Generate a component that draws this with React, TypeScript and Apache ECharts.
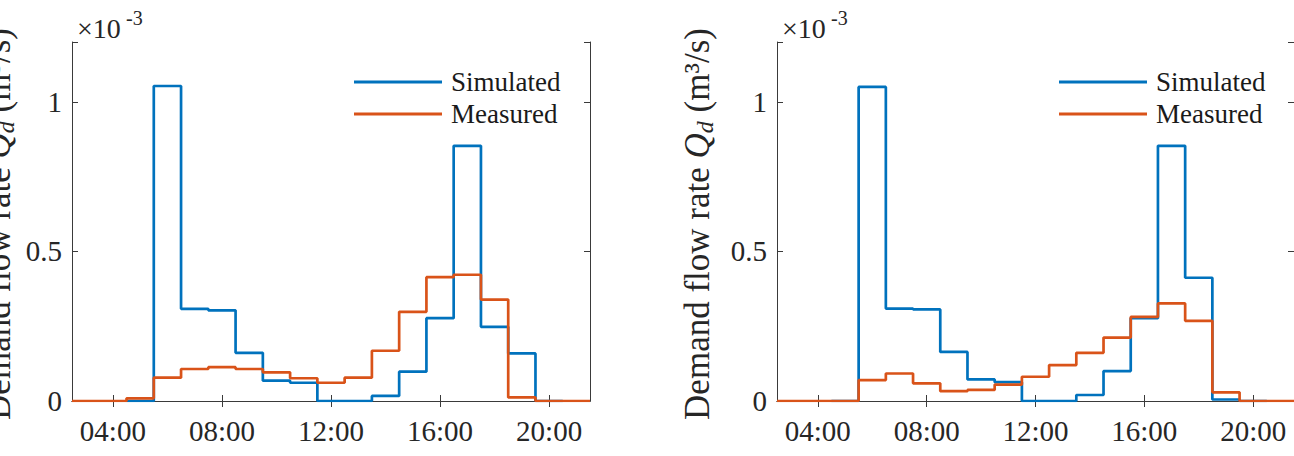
import React, { useEffect, useRef } from 'react';
import * as echarts from 'echarts';

// bin centres (hour of day); each bin spans h-0.5 .. h+0.5
const hours = [3, 4, 5, 6, 7, 8, 9, 10, 11, 12, 13, 14, 15, 16, 17, 18, 19, 20, 21];
const tickHours = [4, 8, 12, 16, 20];
const yTickValues = [0, 0.5, 1];

// values in units of 1e-3 m^3/s
const leftSimulated = [null, null, 0, 1.053, 0.308, 0.303, 0.161, 0.068, 0.061, 0, 0, 0.017, 0.098, 0.277, 0.853, 0.248, 0.159, 0, null];
const leftMeasured = [0, 0, 0.009, 0.078, 0.107, 0.113, 0.107, 0.096, 0.076, 0.061, 0.078, 0.168, 0.298, 0.414, 0.422, 0.339, 0.012, 0, 0];
const rightSimulated = [null, null, 0, 1.05, 0.309, 0.306, 0.164, 0.072, 0.063, 0, 0, 0.02, 0.1, 0.277, 0.853, 0.412, 0.005, 0, null];
const rightMeasured = [0, 0, 0, 0.07, 0.092, 0.059, 0.033, 0.037, 0.055, 0.081, 0.12, 0.161, 0.212, 0.281, 0.326, 0.268, 0.029, 0, 0];

const seriesNames = ['Simulated', 'Measured'];
const colors = ['#0072BD', '#D95319'];
const FONT = 'Liberation Serif';
const AX = '#3a3a3a';

function stairs(values: (number | null)[]) {
  const pts: number[][] = [];
  let last: number[] | null = null;
  hours.forEach((h, i) => {
    const v = values[i];
    if (v == null) return;
    pts.push([h - 0.5, v]);
    last = [h + 0.5, v];
  });
  if (last) pts.push(last);
  return pts;
}

const hourLabel = (v: number) => String(Math.round(v)).padStart(2, '0') + ':00';

export default function App() {
  const ref = useRef<HTMLDivElement>(null);
  useEffect(() => {
    if (!ref.current) return;
    const chart = echarts.init(ref.current, null, { renderer: 'svg' });
    const grids = [
      { left: 72, top: 42, width: 518, height: 359 },
      { left: 777, top: 42, width: 518, height: 359 },
    ];
    const xMin = hours[0] - 0.5;
    const xMax = hours[hours.length - 1] + 0.5;
    const xAxes: any[] = [];
    const yAxes: any[] = [];
    grids.forEach((_, g) => {
      xAxes.push({
        type: 'value', gridIndex: g, position: 'bottom', min: xMin, max: xMax,
        axisLine: { show: true, lineStyle: { color: AX, width: 1 } },
        axisTick: { show: true, inside: true, length: 6, customValues: tickHours, lineStyle: { color: AX } },
        axisLabel: { show: true, customValues: tickHours, formatter: hourLabel, margin: 15, color: '#262626', fontFamily: FONT, fontSize: 29 },
        splitLine: { show: false },
      });
      xAxes.push({
        type: 'value', gridIndex: g, position: 'top', min: xMin, max: xMax,
        axisLine: { show: true, lineStyle: { color: AX, width: 1 } },
        axisTick: { show: true, inside: true, length: 6, customValues: tickHours, lineStyle: { color: AX } },
        axisLabel: { show: false },
        splitLine: { show: false },
      });
      yAxes.push({
        type: 'value', gridIndex: g, position: 'left', min: 0, max: 1.2, interval: 0.5,
        axisLine: { show: true, lineStyle: { color: AX, width: 1 } },
        axisTick: { show: true, inside: true, length: 6, lineStyle: { color: AX } },
        axisLabel: { show: true, margin: 10, color: '#262626', fontFamily: FONT, fontSize: 29, formatter: (v: number) => (yTickValues.includes(v) ? String(v) : '') },
        splitLine: { show: false },
      });
      yAxes.push({
        type: 'value', gridIndex: g, position: 'right', min: 0, max: 1.2, interval: 0.5,
        axisLine: { show: true, lineStyle: { color: AX, width: 1 } },
        axisTick: { show: true, inside: true, length: 6, lineStyle: { color: AX } },
        axisLabel: { show: false },
        splitLine: { show: false },
      });
    });

    const panels = [
      [leftSimulated, leftMeasured],
      [rightSimulated, rightMeasured],
    ];
    const series: any[] = [];
    panels.forEach((pair, g) => {
      pair.forEach((vals, k) => {
        series.push({
          type: 'line', name: seriesNames[k], step: 'end',
          xAxisIndex: 2 * g, yAxisIndex: 2 * g,
          data: stairs(vals), symbol: 'none', showSymbol: false,
          lineStyle: { color: colors[k], width: 2.7 },
          itemStyle: { color: colors[k] },
          z: 2 + k,
        });
      });
    });

    const legends = grids.map((gr) => ({
      orient: 'vertical', left: gr.left + 282, top: 67, padding: 0,
      itemWidth: 88, itemHeight: 3, itemGap: 2, icon: 'rect',
      data: seriesNames,
      textStyle: { fontFamily: FONT, fontSize: 27, lineHeight: 30, color: '#1a1a1a', padding: [0, 0, 0, 4] },
      selectedMode: false,
    }));

    const graphics: any[] = [];
    const yLabelX = [-2, 697];
    grids.forEach((gr, g) => {
      graphics.push({
        type: 'text', x: gr.left + 5, y: 28,
        style: { text: '×10', fontFamily: FONT, fontSize: 28, fill: '#262626', verticalAlign: 'middle', align: 'left' },
      });
      graphics.push({
        type: 'text', x: gr.left + 54, y: 18,
        style: { text: '-3', fontFamily: FONT, fontSize: 20, fill: '#262626', verticalAlign: 'middle', align: 'left' },
      });
      graphics.push({
        type: 'text', x: yLabelX[g], y: 224, rotation: Math.PI / 2,
        style: {
          text: '{n|Demand flow rate }{q|Q}{s|d}{n| (m³/s)}',
          align: 'center', verticalAlign: 'middle', fill: '#262626',
          rich: {
            n: { fontFamily: FONT, fontSize: 35, lineHeight: 40, fill: '#262626' },
            q: { fontFamily: FONT, fontSize: 35, lineHeight: 40, fontStyle: 'italic', fill: '#262626' },
            s: { fontFamily: FONT, fontSize: 24, lineHeight: 26, fontStyle: 'italic', verticalAlign: 'bottom', fill: '#262626' },
          },
        },
      });
    });

    chart.setOption({
      animation: false,
      backgroundColor: '#ffffff',
      grid: grids,
      xAxis: xAxes,
      yAxis: yAxes,
      legend: legends,
      series,
      graphic: graphics,
    });
    return () => chart.dispose();
  }, []);
  return <div ref={ref} style={{ position: 'absolute', left: 0, top: 0, width: 1294, height: 456 }} />;
}
